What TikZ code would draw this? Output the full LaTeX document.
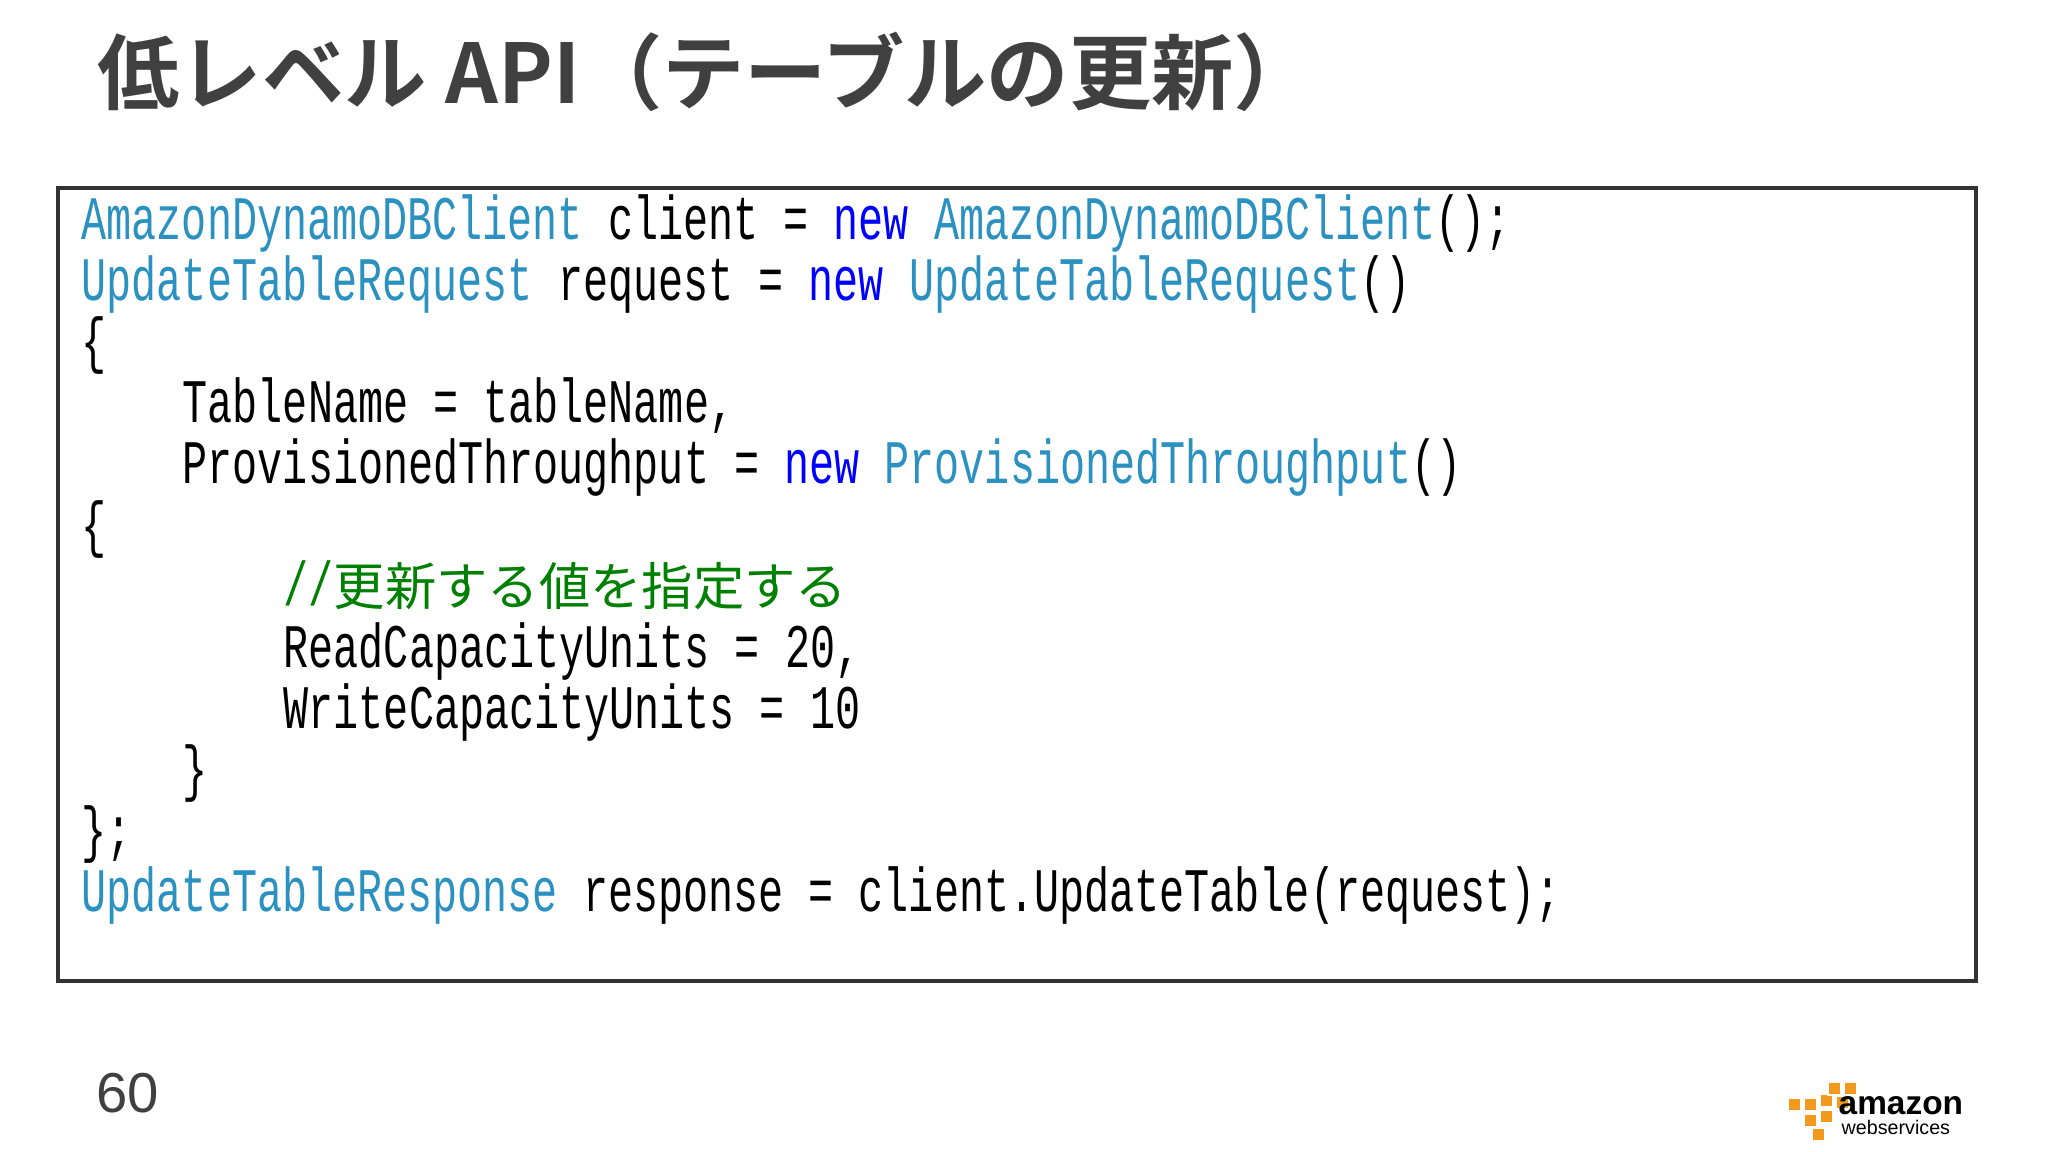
\documentclass[tikz,border=0pt]{standalone}
\usepackage{fontspec}
\newfontfamily\codefont[FakeStretch=0.675,WordSpace={1,0,0}]{Liberation Mono}
\newfontfamily\cjk{Noto Sans CJK JP}
\newfontfamily\cjkb{Noto Sans CJK JP Bold}
\newfontfamily\sansf{Liberation Sans}
\definecolor{typec}{HTML}{2B91C0}
\definecolor{kwc}{HTML}{0000FF}
\definecolor{cmc}{HTML}{008000}
\definecolor{titlec}{HTML}{404040}
\definecolor{awso}{HTML}{F39A1E}
\newcommand{\Ty}[1]{\textcolor{typec}{#1}}
\newcommand{\Kw}[1]{\textcolor{kwc}{#1}}
\begin{document}
\begin{tikzpicture}[x=0.01cm,y=-0.01cm,
  code/.style={anchor=base west,inner sep=0,font=\codefont\fontsize{17.6pt}{18pt}\selectfont},
  cube/.style={fill=awso,draw=white,line width=0.4pt}]
\useasboundingbox (0,0) rectangle (2048,1152);
\node[anchor=base west,inner sep=0,text=titlec,font=\cjkb\fontsize{23.4pt}{24pt}\selectfont] (title) at (97,104) {低レベル API（テーブルの更新）};
\draw[line width=1.2pt,draw=black!80] (58,188) rectangle (1976,981);
\node[code] (l0) at (81,240) {\Ty{AmazonDynamoDBClient} client = \Kw{new} \Ty{AmazonDynamoDBClient}();};
\node[code] (l1) at (81,301) {\Ty{UpdateTableRequest} request = \Kw{new} \Ty{UpdateTableRequest}()};
\node[code] (l2) at (81,362) {\{};
\node[code] (l3) at (182,423) {TableName = tableName,};
\node[code] (l4) at (182,484) {ProvisionedThroughput = \Kw{new} \Ty{ProvisionedThroughput}()};
\node[code] (l5) at (81,545) {\{};
\node[code,text=cmc] (l6) at (283,606) {//{\cjk\fontsize{14.6pt}{15pt}\selectfont 更新する値を指定する}};
\node[code] (l7) at (283,667) {ReadCapacityUnits = 20,};
\node[code] (l8) at (283,728) {WriteCapacityUnits = 10};
\node[code] (l9) at (182,789) {\}};
\node[code] (l10) at (81,850) {\};};
\node[code] (l11) at (81,911) {\Ty{UpdateTableResponse} response = client.UpdateTable(request);};
\node[anchor=base west,inner sep=0,text=titlec,font=\sansf\fontsize{16pt}{16pt}\selectfont] (pg) at (96,1112) {60};
% AWS logo
\foreach \p in {(1788,1098),(1804,1098),(1820,1094),(1804,1114),(1820,1110),(1812,1128),(1828,1082),(1844,1082),(1836,1096)}
  \fill[cube] \p rectangle ++(13,13);
\node[anchor=base west,inner sep=0,font=\sansf\bfseries\fontsize{9.5pt}{10pt}\selectfont] (amz) at (1838,1114) {amazon};
\node[anchor=base west,inner sep=0,font=\sansf\fontsize{5.6pt}{6pt}\selectfont] (ws) at (1841,1134) {webservices};
\end{tikzpicture}
\end{document}
